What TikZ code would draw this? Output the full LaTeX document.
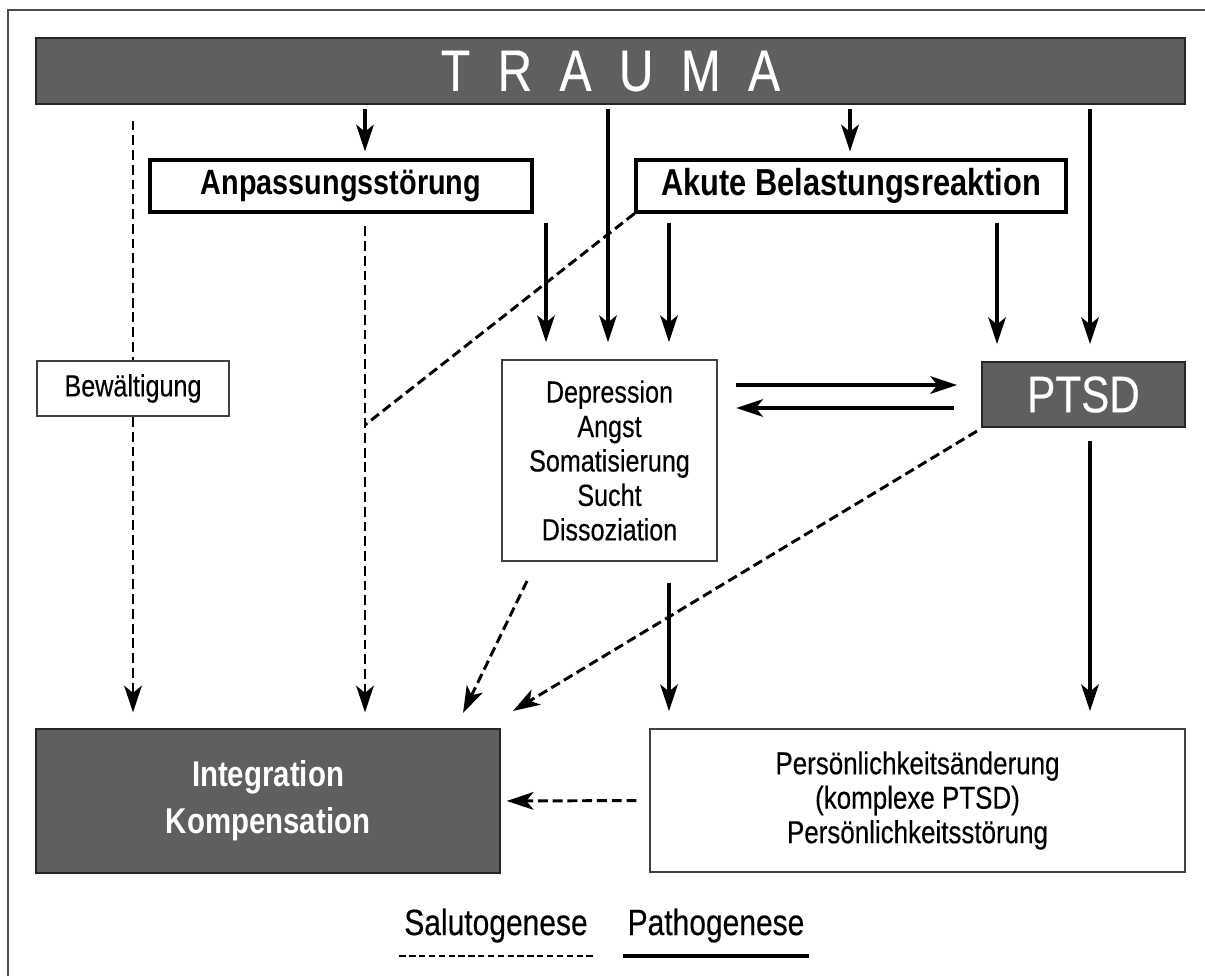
\documentclass[tikz,border=0pt]{standalone}
\usepackage{fontspec}
\setmainfont{Liberation Sans}[FakeStretch=0.82, UprightFeatures={FakeBold=0.35}]
\usetikzlibrary{arrows.meta}
\definecolor{boxgray}{HTML}{5F5F5F}
\tikzset{
  boxsize/.style 2 args={minimum width=#1*0.025cm, minimum height=#2*0.025cm},
  darkbox/.style={draw=black!85, fill=boxgray, line width=1.5pt, inner sep=0pt, text=white, align=center},
  whitebox/.style={draw=black, fill=white, line width=2.2pt, inner sep=0pt},
  thinbox/.style={draw=black!75, fill=white, line width=1.4pt, inner sep=0pt, align=center},
  tip/.style={-{Stealth[length=19pt,width=12.5pt,inset=5pt]}},
  patho/.style={line width=2.3pt, tip},
  saluto/.style={line width=2.1pt, dash pattern=on 7pt off 3.5pt, tip},
  salutoline/.style={line width=2.1pt, dash pattern=on 7pt off 3.5pt},
}
\begin{document}
\begin{tikzpicture}[x=0.025cm, y=-0.025cm]
\useasboundingbox (0,0) rectangle (1205,976);
\draw[black!70, line width=1.4pt] (8,976) -- (8,10) -- (1205,10);

% boxes
\node[darkbox, boxsize={1149}{66}, font=\fontsize{41.5}{41.5}\selectfont] (trauma) at (610.5,71)
  {T\hspace{19.5pt}R\hspace{19.5pt}A\hspace{19.5pt}U\hspace{19.5pt}M\hspace{19.5pt}A};
\node[whitebox, boxsize={382}{52}, font=\bfseries\fontsize{25}{25}\selectfont] (anp) at (341,186) {Anpassungsstörung};
\node[whitebox, boxsize={430}{52}, font=\bfseries\fontsize{26.7}{26.7}\selectfont] (akute) at (851,186) {Akute Belastungsreaktion};
\node[thinbox, boxsize={192}{55}, font=\fontsize{21.8}{24}\selectfont] (bew) at (133,388.5) {Bewältigung};
\node[thinbox, boxsize={215}{201}, font=\fontsize{21.8}{24.5}\selectfont] (dep) at (609.5,460.5)
  {Depression\\Angst\\Somatisierung\\Sucht\\Dissoziation};
\node[darkbox, boxsize={203}{65}, font=\fontsize{36.6}{36.6}\selectfont] (ptsd) at (1083.5,394.5) {PTSD};
\node[darkbox, boxsize={464}{144}, font=\bfseries\fontsize{25.5}{33.3}\selectfont] (integ) at (268,801)
  {Integration\\Kompensation};
\node[thinbox, boxsize={535}{143}, font=\fontsize{22.5}{24.5}\selectfont] (pers) at (917.5,800.5)
  {Persönlichkeitsänderung\\(komplexe PTSD)\\Persönlichkeitsstörung};

% columns and rows
\coordinate (cB) at (365,0);
\coordinate (cC) at (546,0);
\coordinate (cD) at (608,0);
\coordinate (cE) at (669,0);
\coordinate (cF) at (850,0);
\coordinate (cG) at (997,0);
\coordinate (cH) at (1090,0);
\coordinate (r1) at (0,385);
\coordinate (r2) at (0,408);
\coordinate (merge) at (365,425);

% Pathogenese
\draw[patho, shorten <=3pt, shorten >=5pt] (trauma.south -| cB) -- (anp.north -| cB);
\draw[patho, shorten <=3pt, shorten >=5pt] (trauma.south -| cF) -- (akute.north -| cF);
\draw[patho, shorten <=3pt, shorten >=12pt] (trauma.south -| cD) -- (dep.north -| cD);
\draw[patho, shorten <=7pt, shorten >=12pt] (anp.south -| cC) -- (dep.north -| cC);
\draw[patho, shorten <=7pt, shorten >=12pt] (akute.south -| cE) -- (dep.north -| cE);
\draw[patho, shorten <=7pt, shorten >=12pt] (akute.south -| cG) -- (ptsd.north -| cG);
\draw[patho, shorten <=3pt, shorten >=12pt] (trauma.south -| cH) -- (ptsd.north -| cH);
\draw[patho, shorten <=13pt, shorten >=17pt] (dep.east |- r1) -- (ptsd.west |- r1);
\draw[patho, shorten <=19pt, shorten >=13pt] (ptsd.west |- r2) -- (dep.east |- r2);
\draw[patho, shorten <=9pt, shorten >=12pt] (ptsd.south -| cH) -- (pers.north -| cH);
\draw[patho, shorten <=15pt, shorten >=12pt] (dep.south -| cE) -- (pers.north -| cE);

% Salutogenese
\draw[salutoline, shorten <=11pt] (trauma.south -| bew.north) -- (bew.north);
\draw[saluto, shorten >=11pt] (bew.south) -- (integ.north -| bew.south);
\draw[saluto, shorten <=9pt, shorten >=11pt] (anp.south -| cB) -- (integ.north -| cB);
\draw[salutoline] (akute.south west) -- (merge);
\draw[saluto] ([shift={(26,19)}]dep.south west) -- ([shift={(-38,-15)}]integ.north east);
\draw[saluto] ([shift={(-4,3)}]ptsd.south west) -- ([shift={(12,-17)}]integ.north east);
\draw[saluto, shorten <=9pt, shorten >=4pt] (pers.west) -- (integ.east);

% legend
\node[font=\fontsize{26}{26}\selectfont, anchor=base] (salu) at (496,935) {Salutogenese};
\node[font=\fontsize{26}{26}\selectfont, anchor=base] (patho) at (716,935) {Pathogenese};
\draw[salutoline, line width=1.7pt, dash pattern=on 4.5pt off 2.5pt] ([yshift=-6pt]salu.south west) -- ([yshift=-6pt]salu.south east);
\draw[line width=2.2pt] ([yshift=-6pt]patho.south west) -- ([yshift=-6pt]patho.south east);
\end{tikzpicture}
\end{document}
